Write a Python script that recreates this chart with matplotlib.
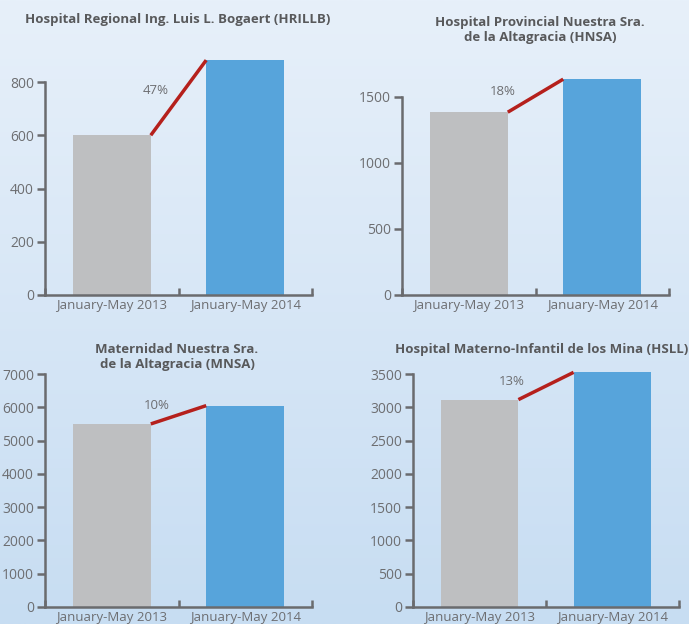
import numpy as np
import matplotlib
matplotlib.use("Agg")
import matplotlib.pyplot as plt
from matplotlib.colors import LinearSegmentedColormap

# data
periods = ["January-May 2013", "January-May 2014"]
titles = [
    "Hospital Regional Ing. Luis L. Bogaert (HRILLB)",
    "Hospital Provincial Nuestra Sra.\nde la Altagracia (HNSA)",
    "Maternidad Nuestra Sra.\nde la Altagracia (MNSA)",
    "Hospital Materno-Infantil de los Mina (HSLL)",
]
hrillb = [600, 882]
hnsa = [1385, 1635]
mnsa = [5500, 6050]
hsll = [3115, 3525]
y_ticks = [
    [0, 200, 400, 600, 800],
    [0, 500, 1000, 1500],
    [0, 1000, 2000, 3000, 4000, 5000, 6000, 7000],
    [0, 500, 1000, 1500, 2000, 2500, 3000, 3500],
]
series = [hrillb, hnsa, mnsa, hsll]

# layout in pixels: (left, top, right, bottom), title centre, label offset
W, H = 689, 624
boxes = [(45, 82, 312, 295), (402, 97, 669, 295),
         (45, 374, 312, 607), (413, 374, 679, 607)]
title_pos = [(178, 20), (540, 30), (177, 357), (542, 350)]
label_off = [(-23, 7), (-33, 4), (-22, 9), (-34, 4)]

GREY = "#bebfc1"
BLUE = "#57a4db"
RED = "#b5201c"
TXT = "#6d6e71"
SPINE = "#6a6b6e"

plt.rcParams["font.family"] = ["Open Sans", "DejaVu Sans"]

fig = plt.figure(figsize=(W / 100, H / 100), dpi=100)

# background gradient
bg = fig.add_axes([0, 0, 1, 1], zorder=-10)
cmap = LinearSegmentedColormap.from_list("bg", ["#e7f0fa", "#c7ddf2"])
bg.imshow(np.linspace(0, 1, 256).reshape(-1, 1), aspect="auto", cmap=cmap,
          extent=[0, 1, 0, 1])
bg.axis("off")

bw = 0.585
for i, vals in enumerate(series):
    l, t, r, b = boxes[i]
    ax = fig.add_axes([l / W, 1 - b / H, (r - l) / W, (b - t) / H])
    ax.patch.set_alpha(0)
    top = y_ticks[i][-1]
    ax.set_xlim(-0.5, 1.5)
    ax.set_ylim(0, top)
    ax.bar([0, 1], vals, width=bw, color=[GREY, BLUE], clip_on=False, zorder=2)
    x0, x1 = bw / 2, 1 - bw / 2
    ax.plot([x0, x1], vals, color=RED, lw=2.5, solid_capstyle="butt",
            clip_on=False, zorder=3)
    pct = round((vals[1] / vals[0] - 1) * 100)
    ax.annotate(f"{pct}%", xy=((x0 + x1) / 2, (vals[0] + vals[1]) / 2),
                xytext=label_off[i], textcoords="offset pixels",
                ha="center", va="center", fontsize=9.5, color=TXT,
                annotation_clip=False)

    for s in ["top", "right"]:
        ax.spines[s].set_visible(False)
    for s in ["left", "bottom"]:
        ax.spines[s].set_color(SPINE)
        ax.spines[s].set_linewidth(1.8)
    ax.spines["left"].set_bounds(0, top)

    ax.set_yticks(y_ticks[i])
    ax.tick_params(axis="y", direction="out", length=6, width=1.8,
                   color=SPINE, labelcolor=TXT, labelsize=10, pad=2)
    ax.set_xticks([-0.5, 0.5, 1.5])
    ax.set_xticklabels([])
    ax.tick_params(axis="x", direction="in", length=5, width=1.8, color=SPINE)
    ax.set_xticks([0, 1], minor=True)
    ax.set_xticklabels(periods, minor=True)
    ax.tick_params(axis="x", which="minor", length=0, labelcolor=TXT,
                   labelsize=9.5, pad=3)

    tx, ty = title_pos[i]
    fig.text(tx / W, 1 - ty / H, titles[i], ha="center", va="center",
             fontsize=9.5, fontweight="bold", color="#58595b",
             linespacing=1.25)

fig.savefig("out.png", dpi=100)
